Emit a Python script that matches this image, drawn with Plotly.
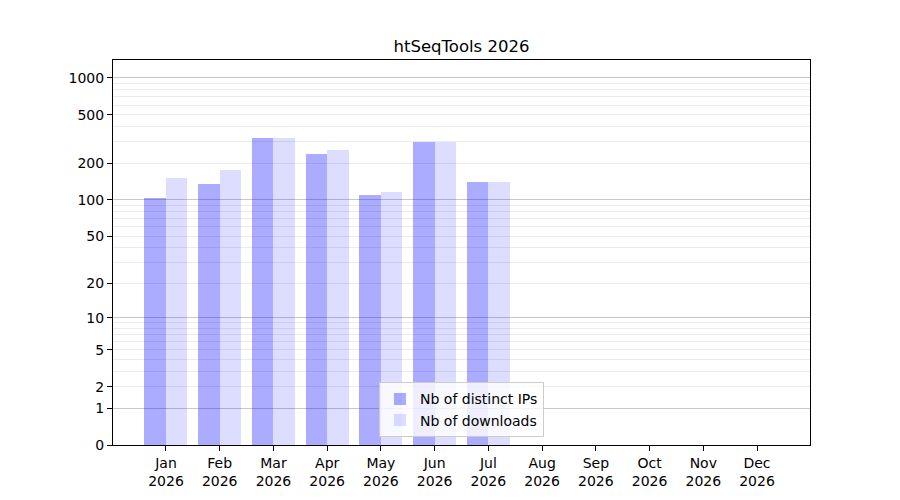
import numpy as np
import plotly.graph_objects as go

YEAR = 2026
TITLE = f"htSeqTools {YEAR}"

MONTHS = ["Jan", "Feb", "Mar", "Apr", "May", "Jun", "Jul", "Aug", "Sep", "Oct", "Nov", "Dec"]
# only the first 7 months have data so far
DISTINCT_IPS = [103, 134, 325, 240, 110, 301, 141]
DOWNLOADS = [150, 175, 325, 259, 115, 301, 141]

Y_TICKS = [0, 1, 2, 5, 10, 20, 50, 100, 200, 500, 1000]
Y_MAJOR_GRID = [1, 10, 100, 1000]
Y_MINOR_GRID = [m * d for d in [1, 10, 100] for m in range(2, 10)]

FONT = "DejaVu Sans, Liberation Sans, sans-serif"

# the page body has an 8px margin, so everything is pulled back by that much
PAGE_OFFSET = 8


def symlog(vals):
    # the original axis is log10(1 + x), plotly has no such scale so we map the values
    return np.log10(1 + np.asarray(vals, dtype=float))


x_pos = list(range(len(MONTHS)))
tick_text = [f"{m}<br>{YEAR}" for m in MONTHS]
y_range = [0, 3.147]

fig = go.Figure()

fig.add_trace(go.Bar(
    x=x_pos[:len(DISTINCT_IPS)], y=symlog(DISTINCT_IPS),
    customdata=DISTINCT_IPS, hovertemplate="%{customdata}<extra>Nb of distinct IPs</extra>",
    name="Nb of distinct IPs", width=0.4, offset=-0.4,
    marker=dict(color="rgba(0,0,255,0.33)", line=dict(width=0)),
))
fig.add_trace(go.Bar(
    x=x_pos[:len(DOWNLOADS)], y=symlog(DOWNLOADS),
    customdata=DOWNLOADS, hovertemplate="%{customdata}<extra>Nb of downloads</extra>",
    name="Nb of downloads", width=0.4, offset=0,
    marker=dict(color="rgba(0,0,255,0.135)", line=dict(width=0)),
))

# invisible helper trace so the second y axis (major grid) gets drawn
fig.add_trace(go.Scatter(x=[x_pos[0]], y=[0], yaxis="y2", mode="markers",
                         marker=dict(opacity=0), showlegend=False, hoverinfo="skip"))

fig.update_layout(
    width=900, height=500,
    margin=dict(l=113 - PAGE_OFFSET, r=90 + PAGE_OFFSET, t=60 - PAGE_OFFSET, b=55 + PAGE_OFFSET),
    paper_bgcolor="white", plot_bgcolor="white",
    font=dict(family=FONT, size=14, color="black"),
    title=dict(text=TITLE, x=0.5, xref="paper", xanchor="center",
               y=1 - (46 - PAGE_OFFSET) / 500, yanchor="middle", font=dict(size=16.5, color="black")),
    barmode="overlay", bargap=0,
    showlegend=True,
    legend=dict(x=0.5, xanchor="center", y=0.02, yanchor="bottom",
                bgcolor="rgba(255,255,255,0.8)", bordercolor="#cccccc", borderwidth=1,
                font=dict(size=14), tracegroupgap=2),
    xaxis=dict(
        range=[-0.986, 11.986], tickmode="array", tickvals=x_pos, ticktext=tick_text,
        showgrid=False, zeroline=False, showline=True, mirror=True,
        linecolor="black", linewidth=1, ticks="outside", ticklen=5, tickcolor="black",
    ),
    yaxis=dict(
        range=y_range, tickmode="array", tickvals=symlog(Y_TICKS),
        ticktext=[str(t) for t in Y_TICKS],
        showgrid=False, zeroline=False, showline=True, mirror=True,
        linecolor="black", linewidth=1, ticks="outside", ticklen=5, tickcolor="black",
        minor=dict(tickmode="array", tickvals=symlog(Y_MINOR_GRID), showgrid=True,
                   gridcolor="rgba(176,176,176,0.25)", gridwidth=1, ticks=""),
    ),
    yaxis2=dict(
        range=y_range, overlaying="y", tickmode="array", tickvals=symlog(Y_MAJOR_GRID),
        showticklabels=False, showgrid=True, gridcolor="rgba(176,176,176,0.7)",
        gridwidth=1, zeroline=False, showline=False, ticks="",
    ),
)

fig.write_html("out.html")
